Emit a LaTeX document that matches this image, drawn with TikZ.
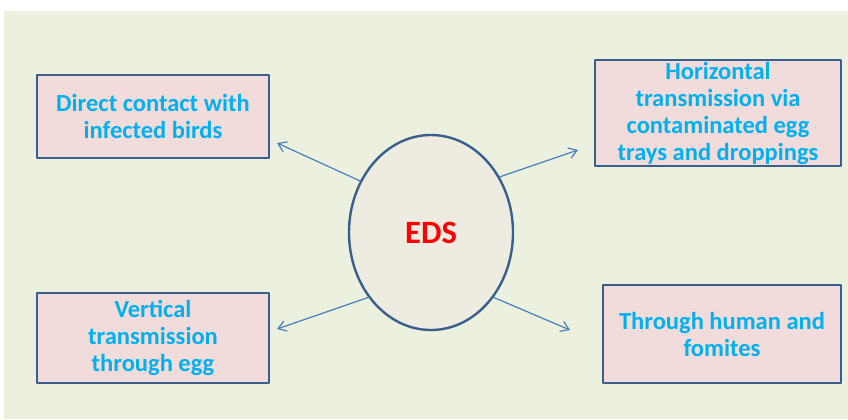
\documentclass[tikz,border=0pt]{standalone}
\usepackage{fontspec}
\setmainfont{Carlito}
\usetikzlibrary{shapes.geometric,arrows.meta}
\definecolor{bgcol}{HTML}{EBF1DE}
\definecolor{boxfill}{HTML}{F2DCDB}
\definecolor{boxline}{HTML}{3A5F8C}
\definecolor{txtcol}{HTML}{00B0F0}
\definecolor{eggfill}{HTML}{EEECE1}
\definecolor{arrcol}{HTML}{4A7EBB}
\begin{document}
\begin{tikzpicture}[line cap=round,line join=round,x=.75pt,y=-.75pt,
  routebox/.style={draw=boxline,line width=1.7pt,fill=boxfill,text=txtcol,align=center,
    inner sep=0pt,font=\fontsize{18.4}{20.25}\selectfont\bfseries},
  link/.style={draw=arrcol,line width=.9pt,-{Straight Barb[length=6pt,width=8pt]}}]
	\useasboundingbox (0,0) rectangle (848,419);
	\fill[bgcol] (4,11) rectangle (848,419);
	\node[routebox,minimum width=174pt,minimum height=62.25pt] (contact) at (153,116.5) {Direct contact with\\infected birds};
	\node[routebox,minimum width=184.5pt,minimum height=79.5pt] (horiz) at (718,113) {Horizontal\\transmission via\\contaminated egg\\trays and droppings};
	\node[routebox,minimum width=174pt,minimum height=67.5pt] (vert) at (153,338) {Vertical\\transmission\\through egg};
	\node[routebox,minimum width=178.5pt,minimum height=73.5pt] (human) at (722,334) {Through human and\\fomites};
	\node[ellipse,draw=boxline,line width=1.8pt,fill=eggfill,inner sep=0pt,minimum width=123pt,minimum height=146.25pt,
	  text=red,font=\fontsize{24.4}{28}\selectfont\bfseries] (eds) at (431,232.5) {EDS};
	\coordinate (tipA) at (277,143);
	\coordinate (tipB) at (578,150);
	\coordinate (tipC) at (277,329);
	\coordinate (tipD) at (570,330);
	\draw[link] (eds.144) -- (tipA);
	\draw[link] (eds.39) -- (tipB);
	\draw[link] (eds.226) -- (tipC);
	\draw[link] (eds.314) -- (tipD);
\end{tikzpicture}
\end{document}
